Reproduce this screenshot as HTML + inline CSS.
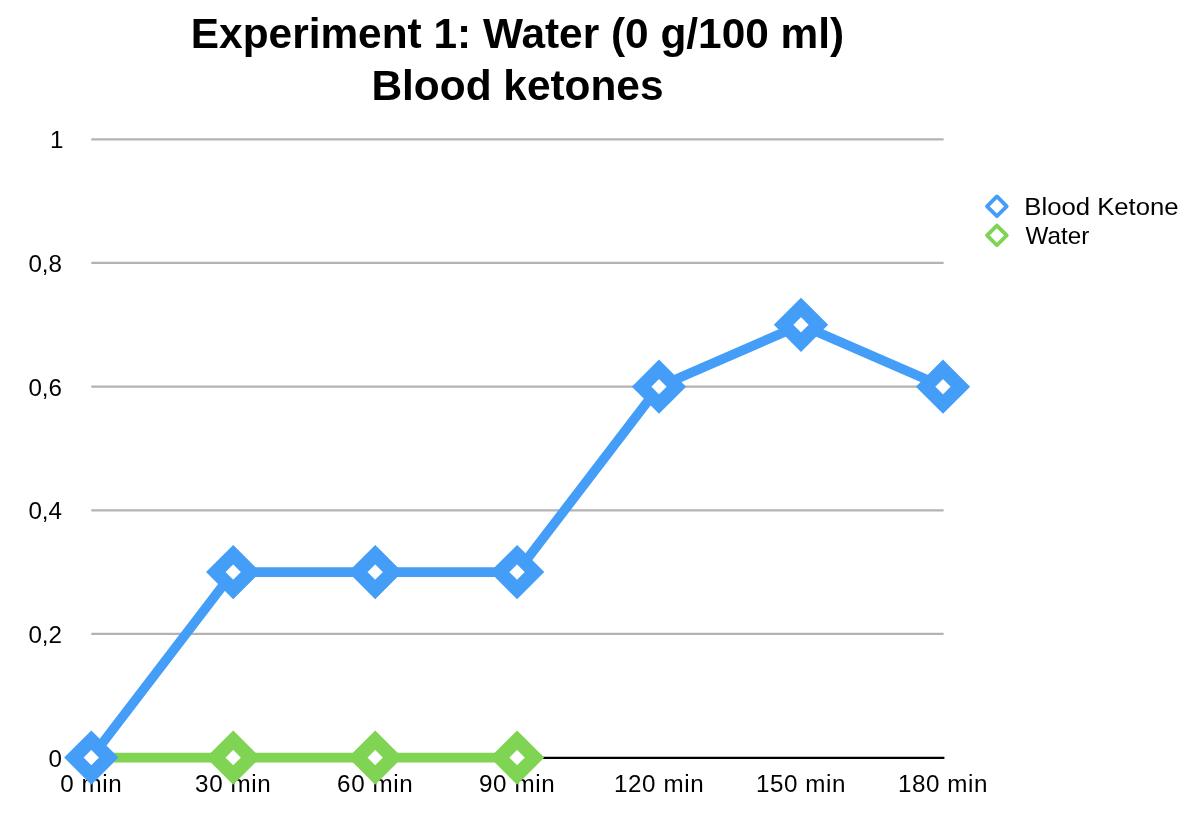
<!DOCTYPE html>
<html>
<head>
<meta charset="utf-8">
<title>Experiment 1: Water (0 g/100 ml) Blood ketones</title>
<style>
  html, body { margin: 0; padding: 0; background: #ffffff; }
  body { width: 1200px; height: 838px; overflow: hidden; position: relative; }
  svg { position: absolute; left: 0; top: 0; display: block; will-change: transform; }
  text { font-family: "Liberation Sans", sans-serif; fill: #000000; }
  .title { font-weight: bold; font-size: 42.4px; text-anchor: middle; }
  .ylab { font-size: 24.2px; text-anchor: end; }
  .xlab { font-size: 24.2px; text-anchor: middle; letter-spacing: 0.6px; }
  .leg { font-size: 24.2px; text-anchor: start; }
  .grid { stroke: #b3b3b3; stroke-width: 2.2; fill: none; }
  .axis { stroke: #000000; stroke-width: 2.1; fill: none; }
  .blue { stroke: #449ef8; fill: none; }
  .green { stroke: #80d453; fill: none; }
  .line { stroke-width: 9.6; stroke-linejoin: round; stroke-linecap: butt; }
  .mk { stroke-width: 13.8; stroke-linejoin: miter; fill: #ffffff; }
  .lmk { stroke-width: 3.8; stroke-linejoin: round; fill: #ffffff; }
</style>
</head>
<body>
<svg width="1200" height="838" viewBox="0 0 1200 838">
  <defs>
    <!-- rotated-square marker outlines -->
    <path id="dm" d="M0,-17.4 L17.4,0 L0,17.4 L-17.4,0 Z"/>
    <path id="ldm" d="M0,-9.85 L9.85,0 L0,9.85 L-9.85,0 Z"/>
  </defs>

  <!-- title -->
  <text class="title" x="517.5" y="47.6">Experiment 1: Water (0 g/100 ml)</text>
  <text class="title" x="517.5" y="100">Blood ketones</text>

  <!-- y labels -->
  <text class="ylab" x="63.4" y="148.3">1</text>
  <text class="ylab" x="62" y="272">0,8</text>
  <text class="ylab" x="62" y="395.6">0,6</text>
  <text class="ylab" x="62" y="519.3">0,4</text>
  <text class="ylab" x="62" y="642.9">0,2</text>
  <text class="ylab" x="62" y="766.6">0</text>

  <!-- x labels -->
  <text class="xlab" x="91.3" y="791.7">0 min</text>
  <text class="xlab" x="233.2" y="791.7">30 min</text>
  <text class="xlab" x="375.2" y="791.7">60 min</text>
  <text class="xlab" x="517.1" y="791.7">90 min</text>
  <text class="xlab" x="659.1" y="791.7">120 min</text>
  <text class="xlab" x="801" y="791.7">150 min</text>
  <text class="xlab" x="943" y="791.7">180 min</text>

  <!-- gridlines -->
  <path class="grid" d="M91.3,139.3 H943.6 M91.3,262.95 H943.6 M91.3,386.6 H943.6 M91.3,510.3 H943.6 M91.3,633.9 H943.6"/>
  <path class="axis" d="M91.3,757.9 H944.4"/>

  <!-- green series -->
  <path class="green line" d="M91.3,757.6 L233.2,757.6 L375.2,757.6 L517.1,757.6"/>
  <g class="green mk">
    <use href="#dm" x="233.2" y="757.6"/>
    <use href="#dm" x="375.2" y="757.6"/>
    <use href="#dm" x="517.1" y="757.6"/>
  </g>

  <!-- blue series -->
  <path class="blue line" d="M91.3,757.6 L233.2,572.1 L375.2,572.1 L517.1,572.1 L659,386.7 L801,324.8 L943,386.7"/>
  <g class="blue mk">
    <use href="#dm" x="91.3" y="757.6"/>
    <use href="#dm" x="233.2" y="572.1"/>
    <use href="#dm" x="375.2" y="572.1"/>
    <use href="#dm" x="517.1" y="572.1"/>
    <use href="#dm" x="659" y="386.7"/>
    <use href="#dm" x="801" y="324.8"/>
    <use href="#dm" x="943" y="386.7"/>
  </g>

  <!-- legend -->
  <use class="blue lmk" href="#ldm" x="996.9" y="206.3"/>
  <use class="green lmk" href="#ldm" x="996.9" y="235.4"/>
  <text class="leg" transform="translate(1024.3,215) scale(1.062,1)">Blood Ketone</text>
  <text class="leg" x="1025.6" y="244">Water</text>
</svg>
</body>
</html>
